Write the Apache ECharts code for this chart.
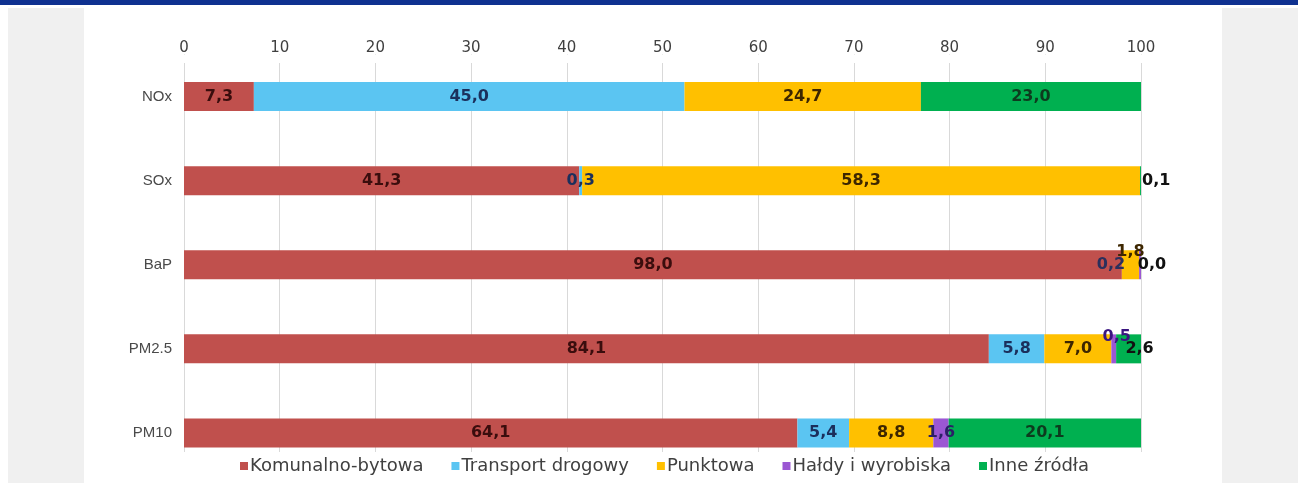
<!DOCTYPE html>
<html><head><meta charset="utf-8">
<script src="https://cdn.jsdelivr.net/npm/echarts@6/dist/echarts.min.js"></script>
<style>html,body{margin:0;padding:0;background:#fff;overflow:hidden}#c{width:1298px;height:483px}</style>
</head><body><div id="c"></div>
<script>
const categories = ['NOx', 'SOx', 'BaP', 'PM2.5', 'PM10'];
const seriesNames = ['Komunalno-bytowa', 'Transport drogowy', 'Punktowa', 'Hałdy i wyrobiska', 'Inne źródła'];
const komunalno = [7.3, 41.3, 98.0, 84.1, 64.1];
const transport = [45.0, 0.3, null, 5.8, 5.4];
const punktowa = [24.7, 58.3, 1.8, 7.0, 8.8];
const haldy = [null, null, 0.2, 0.5, 1.6];
const inne = [23.0, 0.1, 0.0, 2.6, 20.1];
const xTicks = [0, 10, 20, 30, 40, 50, 60, 70, 80, 90, 100];

const values = [komunalno, transport, punktowa, haldy, inne];
const colors = ['#c0504d', '#5bc5f2', '#ffc000', '#9b57d3', '#00b050'];
const labelColors = ['#3a0d0d', '#1b2f5c', '#3d2600', '#2b1f66', '#0d3b1e'];
// per-item label tweaks keyed "seriesIndex-categoryIndex"
const labelTweaks = {
  '4-1': { position: 'right', distance: 1, color: '#111' },
  '2-2': { position: 'inside', offset: [0, -13], color: '#3d2600' },
  '3-2': { position: 'inside', offset: [-29, 0], color: '#2b2f5c' },
  '4-2': { position: 'inside', offset: [11, 0], color: '#111' },
  '3-3': { position: 'inside', offset: [3, -12], color: '#3a1580' },
  '4-3': { position: 'inside', offset: [11, 0], color: '#111' }
};
const fmt = v => (v == null ? '' : v.toFixed(1).replace('.', ','));

const series = values.map((arr, si) => ({
  name: seriesNames[si],
  type: 'bar',
  stack: 'total',
  barWidth: 29,
  itemStyle: { color: colors[si] },
  label: {
    show: true, position: 'inside', color: labelColors[si],
    fontFamily: 'DejaVu Sans', fontWeight: 'bold', fontSize: 16,
    formatter: p => fmt(p.value)
  },
  data: arr.map((v, ci) => {
    const t = labelTweaks[si + '-' + ci];
    return t ? { value: v, label: t } : v;
  })
}));

const chart = echarts.init(document.getElementById('c'));
chart.setOption({
  animation: false,
  backgroundColor: '#fff',
  textStyle: { fontFamily: 'Liberation Sans, Arial' },
  grid: { left: 184, right: 157, top: 54.5, bottom: 8, containLabel: false },
  xAxis: {
    type: 'value', position: 'top', min: 0, max: 100, interval: 10,
    axisLine: { show: false }, axisTick: { show: false },
    splitLine: { lineStyle: { color: '#d9d9d9', width: 1 } },
    axisLabel: { color: '#404040', fontSize: 15, margin: -1, fontFamily: 'DejaVu Sans',
      formatter: v => xTicks.includes(v) ? String(v) : '' }
  },
  yAxis: {
    type: 'category', data: categories, inverse: true,
    axisLine: { show: false }, axisTick: { show: false },
    axisLabel: { color: '#4a4a4a', fontSize: 15, margin: 12, fontFamily: 'Liberation Sans, Arial' }
  },
  legend: {
    bottom: 6, left: 236, itemWidth: 8, itemHeight: 8, itemGap: 28,
    icon: 'rect', backgroundColor: '#fff', padding: [2, 4],
    textStyle: { color: '#404040', fontSize: 18, fontFamily: 'DejaVu Sans', padding: [0, 0, 0, -3] },
    data: seriesNames
  },
  graphic: [
    { type: 'rect', z: 100, shape: { x: 0, y: 0, width: 1298, height: 5 }, style: { fill: '#0f3190' } },
    { type: 'rect', z: -10, shape: { x: 8, y: 8, width: 76, height: 475 }, style: { fill: '#f0f0f0' } },
    { type: 'rect', z: -10, shape: { x: 1222, y: 8, width: 76, height: 475 }, style: { fill: '#f0f0f0' } },
    { type: 'rect', z: 1, shape: { x: 180, y: 55, width: 965, height: 8 }, style: { fill: '#fff' } },
    { type: 'rect', z: 1, shape: { x: 180, y: 452, width: 965, height: 30 }, style: { fill: '#fff' } }
  ],
  series: series
});
</script></body></html>
